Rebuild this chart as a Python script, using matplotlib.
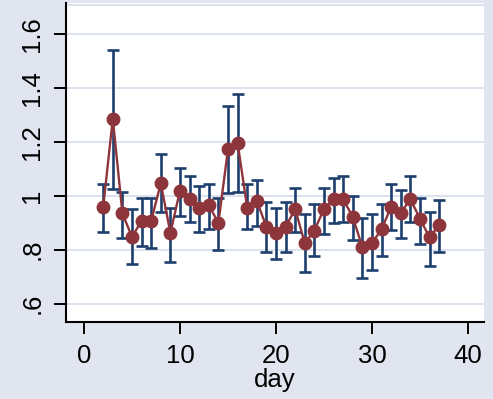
import numpy as np
import matplotlib
matplotlib.use("Agg")
import matplotlib.pyplot as plt

# values
days = list(range(2, 38))
mean_val = [0.958, 1.285, 0.935, 0.847, 0.907, 0.907, 1.046, 0.862, 1.019, 0.988,
            0.953, 0.965, 0.899, 1.172, 1.196, 0.956, 0.981, 0.885, 0.862, 0.885,
            0.950, 0.824, 0.871, 0.951, 0.987, 0.987, 0.921, 0.809, 0.824, 0.876,
            0.959, 0.936, 0.988, 0.914, 0.846, 0.892]
upper = [1.043, 1.540, 1.014, 0.949, 0.992, 0.992, 1.155, 0.955, 1.102, 1.072,
         1.036, 1.044, 0.992, 1.332, 1.376, 1.045, 1.057, 0.977, 0.953, 0.977,
         1.028, 0.931, 0.969, 1.028, 1.066, 1.072, 0.999, 0.917, 0.933, 0.970,
         1.044, 1.021, 1.073, 0.992, 0.940, 0.984]
lower = [0.866, 1.023, 0.845, 0.747, 0.814, 0.807, 0.940, 0.755, 0.925, 0.903,
         0.866, 0.875, 0.800, 1.010, 1.012, 0.875, 0.887, 0.792, 0.764, 0.792,
         0.866, 0.718, 0.777, 0.859, 0.897, 0.903, 0.836, 0.696, 0.725, 0.777,
         0.872, 0.844, 0.903, 0.821, 0.740, 0.792]
y_ticks = [0.6, 0.8, 1.0, 1.2, 1.4, 1.6]
y_tick_labels = [".6", ".8", "1", "1.2", "1.4", "1.6"]
x_ticks = [0, 10, 20, 30, 40]

bg = "#E1E5F0"
grid_col = "#DCE2EE"
navy = "#1E3F6E"
cranberry = "#8E353C"

plt.rcParams["font.family"] = ["Liberation Sans", "DejaVu Sans"]

fig = plt.figure(figsize=(4.93, 3.99), dpi=100, facecolor=bg)
ax = fig.add_axes([66 / 493, 77 / 399, 418 / 493, 319 / 399])
ax.set_facecolor("white")

x = np.array(days)
m = np.array(mean_val)
hi = np.array(upper)
lo = np.array(lower)

# confidence interval caps first, connected means on top
ax.errorbar(x, m, yerr=[m - lo, hi - m], fmt="none", ecolor=navy,
            elinewidth=1.9, capsize=4.6, capthick=1.9, zorder=2)
ax.plot(x, m, "-o", color=cranberry, lw=1.7, markersize=9, zorder=3)

ax.set_xlim(-1.875, 41.67)
ax.set_ylim(0.532, 1.714)
ax.set_xticks(x_ticks)
ax.set_yticks(y_ticks)
ax.set_yticklabels(y_tick_labels, rotation=90, va="center")
ax.grid(axis="y", color=grid_col, lw=1.4, zorder=0)
ax.plot([0, 0.997], [0.994, 0.994], transform=ax.transAxes, color=grid_col, lw=1.4, zorder=1)

for s in ["top", "right"]:
    ax.spines[s].set_visible(False)
for s in ["left", "bottom"]:
    ax.spines[s].set_linewidth(1.5)
    ax.spines[s].set_color("black")

ax.tick_params(axis="both", direction="out", length=8.5, width=1.4, labelsize=18.5, pad=7)
ax.set_xlabel("day", fontsize=18.5, labelpad=0)

fig.savefig("out.png", dpi=100, facecolor=bg)
